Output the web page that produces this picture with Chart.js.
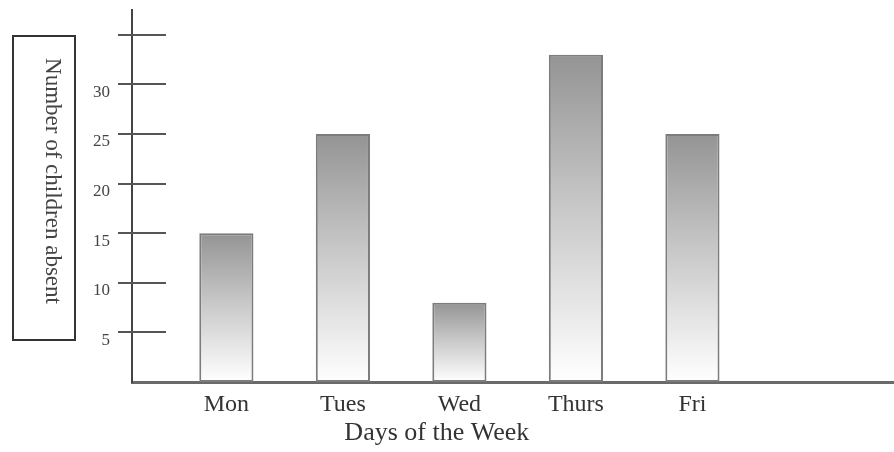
<!DOCTYPE html>
<html>
<head>
<meta charset="utf-8">
<script src="https://cdn.jsdelivr.net/npm/chart.js@4.4.1/dist/chart.umd.min.js"></script>
<style>
  html, body { margin: 0; padding: 0; background: #fff; }
  #wrap { width: 894px; height: 452px; }
</style>
</head>
<body>
<div id="wrap"><canvas id="absentChart" width="894" height="452"></canvas></div>
<script>
const days = ['Mon', 'Tues', 'Wed', 'Thurs', 'Fri'];
const absent = [15, 25, 8, 33, 25];
const yTickLabels = [5, 10, 15, 20, 25, 30];
const yTickMarks = [5, 10, 15, 20, 25, 30, 35];

const serif = '"Liberation Serif", "DejaVu Serif", serif';

// gray-to-white fade on each bar, from its top down to the baseline
function barGradient(context) {
  const chart = context.chart;
  const { ctx, chartArea, scales } = chart;
  if (!chartArea || !context.parsed) return '#c8c8c8';
  const top = scales.y.getPixelForValue(context.parsed.y);
  const base = scales.y.getPixelForValue(0);
  const g = ctx.createLinearGradient(0, top, 0, base);
  g.addColorStop(0, '#949494');
  g.addColorStop(0.45, '#c6c6c6');
  g.addColorStop(1, '#ffffff');
  return g;
}

const axisDecor = {
  id: 'axisDecor',
  afterDraw(chart) {
    const { ctx, chartArea, scales: { y } } = chart;
    ctx.save();

    // tick marks crossing the y axis
    ctx.strokeStyle = '#555';
    ctx.lineWidth = 2;
    yTickMarks.forEach(v => {
      const py = Math.round(y.getPixelForValue(v));
      ctx.beginPath();
      ctx.moveTo(chartArea.left - 14, py);
      ctx.lineTo(chartArea.left + 34, py);
      ctx.stroke();
    });

    // boxed y title, reading downwards
    ctx.strokeStyle = '#333';
    ctx.strokeRect(13, 36, 62, 304);
    ctx.save();
    ctx.translate(52, 181);
    ctx.rotate(Math.PI / 2);
    ctx.font = '23px ' + serif;
    ctx.fillStyle = '#444';
    ctx.textAlign = 'center';
    ctx.textBaseline = 'middle';
    ctx.fillText('Number of children absent', 0, 0);
    ctx.restore();

    // x title, sits left of the plot centre
    ctx.font = '26px ' + serif;
    ctx.fillStyle = '#333';
    ctx.textAlign = 'center';
    ctx.textBaseline = 'middle';
    ctx.fillText('Days of the Week', chartArea.left + (chartArea.right - chartArea.left) * 0.4, 433);

    ctx.restore();
  }
};

const ctx = document.getElementById('absentChart').getContext('2d');

new Chart(ctx, {
  type: 'bar',
  data: {
    datasets: [{
      label: 'Number of children absent',
      data: absent.map((v, i) => ({ x: i, y: v })),
      backgroundColor: barGradient,
      borderColor: '#7c7c7c',
      borderWidth: 2,
      borderSkipped: false,
      barPercentage: 0.465,
      categoryPercentage: 1
    }]
  },
  plugins: [axisDecor],
  options: {
    responsive: false,
    animation: false,
    layout: { padding: { top: 10, right: 0, bottom: 0, left: 0 } },
    plugins: {
      legend: { display: false },
      tooltip: { enabled: false }
    },
    scales: {
      x: {
        type: 'linear',
        offset: false,
        min: -0.81,
        max: 5.73,
        afterFit: scale => {
          scale.height = 70;
          scale.paddingLeft = 0;
          scale.paddingRight = 0;
        },
        grid: { display: false, drawTicks: false, offset: false },
        border: { display: true, color: '#6a6a6a', width: 3 },
        ticks: {
          stepSize: 1,
          includeBounds: false,
          autoSkip: false,
          maxRotation: 0,
          padding: 8,
          color: '#333',
          font: { family: serif, size: 24 },
          callback: v => (Number.isInteger(v) && days[v]) ? days[v] : ''
        }
      },
      y: {
        min: 0,
        max: 37.5,
        afterFit: scale => {
          scale.width = 132;
          scale.paddingTop = 0;
          scale.paddingBottom = 0;
        },
        grid: { display: false, drawTicks: false },
        border: { display: true, color: '#444', width: 2 },
        ticks: {
          stepSize: 5,
          includeBounds: false,
          padding: 22,
          labelOffset: 8,
          color: '#444',
          font: { family: serif, size: 17 },
          callback: v => yTickLabels.includes(v) ? v : ''
        }
      }
    }
  }
});
</script>
</body>
</html>
